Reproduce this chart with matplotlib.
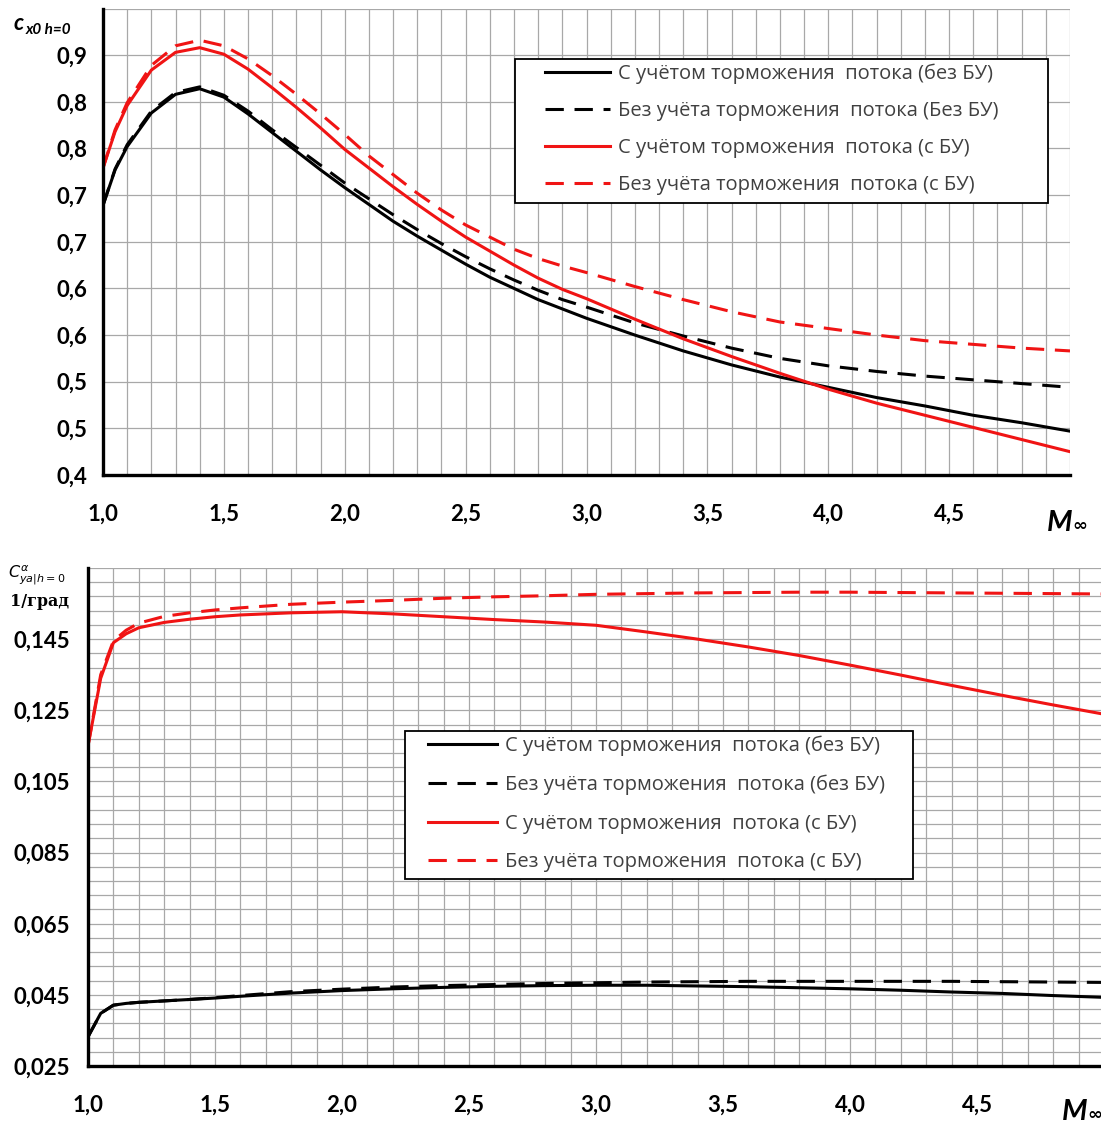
import numpy as np
import matplotlib
matplotlib.use("Agg")
import matplotlib.pyplot as plt
from matplotlib.lines import Line2D
from matplotlib.patches import Rectangle
from matplotlib.ticker import FixedLocator

W, H = 1101, 1127

# ---- top chart: c_x0 (h=0) vs M
m_top = [1.0, 1.05, 1.1, 1.2, 1.3, 1.4, 1.5, 1.6, 1.7, 1.8, 1.9, 2.0, 2.1, 2.2, 2.3, 2.4,
         2.5, 2.6, 2.7, 2.8, 2.9, 3.0, 3.2, 3.4, 3.6, 3.8, 4.0, 4.2, 4.4, 4.6, 4.8, 5.0]
cx_brake_nobu = [0.689, 0.727, 0.752, 0.788, 0.808, 0.814, 0.805, 0.787, 0.767, 0.747, 0.727,
                 0.708, 0.690, 0.672, 0.656, 0.641, 0.626, 0.612, 0.600, 0.588, 0.578, 0.568,
                 0.550, 0.533, 0.518, 0.505, 0.494, 0.483, 0.474, 0.464, 0.456, 0.447]
cx_nobrake_nobu = [0.689, 0.728, 0.754, 0.790, 0.810, 0.816, 0.807, 0.790, 0.770, 0.751, 0.732,
                   0.713, 0.696, 0.679, 0.663, 0.648, 0.634, 0.621, 0.609, 0.598, 0.588, 0.580,
                   0.563, 0.549, 0.536, 0.525, 0.517, 0.511, 0.506, 0.502, 0.498, 0.494]
cx_brake_bu = [0.729, 0.768, 0.796, 0.834, 0.853, 0.858, 0.851, 0.835, 0.815, 0.794, 0.772,
               0.749, 0.729, 0.709, 0.690, 0.672, 0.655, 0.640, 0.625, 0.611, 0.599, 0.589,
               0.567, 0.546, 0.527, 0.509, 0.492, 0.477, 0.464, 0.451, 0.438, 0.425]
cx_nobrake_bu = [0.729, 0.770, 0.799, 0.839, 0.860, 0.866, 0.860, 0.846, 0.828, 0.808, 0.787,
                 0.765, 0.742, 0.722, 0.702, 0.684, 0.668, 0.655, 0.642, 0.632, 0.624, 0.617,
                 0.602, 0.588, 0.575, 0.564, 0.557, 0.550, 0.544, 0.540, 0.536, 0.533]
top_yticks = [0.40, 0.45, 0.50, 0.55, 0.60, 0.65, 0.70, 0.75, 0.80, 0.85, 0.90]
top_ylabels = ["0,4", "0,5", "0,5", "0,6", "0,6", "0,7", "0,7", "0,8", "0,8", "0,9", ""]
top_legend = ["С учётом торможения  потока (без БУ)",
              "Без учёта торможения  потока (Без БУ)",
              "С учётом торможения  потока (с БУ)",
              "Без учёта торможения  потока (с БУ)"]

# ---- bottom chart: C_ya^alpha (h=0), 1/град vs M
m_bot = [1.0, 1.05, 1.1, 1.15, 1.2, 1.3, 1.4, 1.5, 1.6, 1.8, 2.0, 2.2, 2.4, 2.6, 2.8, 3.0,
         3.2, 3.4, 3.6, 3.8, 4.0, 4.2, 4.4, 4.6, 4.8, 5.0]
cy_brake_nobu = [0.0332, 0.0398, 0.0421, 0.0426, 0.0429, 0.0433, 0.0437, 0.0441, 0.0446, 0.0455,
                 0.0462, 0.0467, 0.0471, 0.0474, 0.0476, 0.0477, 0.0477, 0.0475, 0.0473, 0.0470,
                 0.0467, 0.0463, 0.0458, 0.0454, 0.0448, 0.0443]
cy_nobrake_nobu = [0.0332, 0.0398, 0.0421, 0.0426, 0.0429, 0.0433, 0.0437, 0.0442, 0.0448, 0.0459,
                   0.0466, 0.0472, 0.0476, 0.0479, 0.0482, 0.0484, 0.0486, 0.0487, 0.0488, 0.0488,
                   0.0488, 0.0488, 0.0488, 0.0487, 0.0486, 0.0485]
cy_brake_bu = [0.115, 0.134, 0.1440, 0.1465, 0.1482, 0.1497, 0.1506, 0.1513, 0.1518, 0.1524,
               0.1527, 0.1521, 0.1513, 0.1505, 0.1498, 0.1489, 0.1470, 0.1450, 0.1428, 0.1404,
               0.1377, 0.1349, 0.1320, 0.1292, 0.1265, 0.1239]
cy_nobrake_bu = [0.115, 0.135, 0.1445, 0.1475, 0.1495, 0.1514, 0.1524, 0.1532, 0.1538, 0.1548,
                 0.1554, 0.1559, 0.1565, 0.1569, 0.1572, 0.1576, 0.1578, 0.1580, 0.1581, 0.1582,
                 0.1582, 0.1581, 0.1580, 0.1579, 0.1578, 0.1577]
bot_yticks = [0.025, 0.045, 0.065, 0.085, 0.105, 0.125, 0.145]
bot_ylabels = ["0,025", "0,045", "0,065", "0,085", "0,105", "0,125", "0,145"]
bot_legend = ["С учётом торможения  потока (без БУ)",
              "Без учёта торможения  потока (без БУ)",
              "С учётом торможения  потока (с БУ)",
              "Без учёта торможения  потока (с БУ)"]

x_ticks = [1.0, 1.5, 2.0, 2.5, 3.0, 3.5, 4.0, 4.5]
x_labels = ["1,0", "1,5", "2,0", "2,5", "3,0", "3,5", "4,0", "4,5"]

RED = "#f01414"
LW = 2.2
DASH = (6, 3.5)
styles = [("black", "-"), ("black", "--"), (RED, "-"), (RED, "--")]
LEG_FS = 14.5

fig = plt.figure(figsize=(W / 100, H / 100), dpi=100)


def px_axes(left, top, right, bottom):
    return fig.add_axes([left / W, 1 - bottom / H, (right - left) / W, (bottom - top) / H])


def style_axes(ax, ylabels_pad):
    for s in ("top", "right"):
        ax.spines[s].set_visible(False)
    for s in ("left", "bottom"):
        ax.spines[s].set_linewidth(2.4)
        ax.spines[s].set_color("black")
    ax.set_axisbelow(True)
    ax.tick_params(which="both", length=0)
    ax.tick_params(axis="x", pad=21)
    ax.tick_params(axis="y", pad=ylabels_pad)
    for lab in ax.get_xticklabels() + ax.get_yticklabels():
        lab.set_fontfamily("Lato")
        lab.set_fontweight("bold")
        lab.set_fontsize(16)


def add_legend(ax, labels, box, handle_x, rows_cy, hlen, lspace):
    handles = [Line2D([], [], color=c, lw=LW, ls=ls, dashes=DASH if ls == "--" else (None, None))
               for c, ls in styles]
    bb = ax.transAxes.inverted()
    x0, y0 = bb.transform(fig.transFigure.transform((handle_x / W, 1 - rows_cy / H)))
    leg = ax.legend(handles, labels, loc="center left", bbox_to_anchor=(x0, y0),
                    frameon=False, borderpad=0, borderaxespad=0, handlelength=hlen,
                    handletextpad=0.35, labelspacing=lspace,
                    prop={"family": "Open Sans", "size": LEG_FS})
    for t in leg.get_texts():
        t.set_color("#404040")
    l, t_, r, b = box
    ax.add_patch(Rectangle((l / W, 1 - b / H), (r - l) / W, (b - t_) / H,
                           transform=fig.transFigure, facecolor="white",
                           edgecolor="black", lw=1.3, zorder=4.5))
    leg.set_zorder(5)


# ---- top axes
ax1 = px_axes(103, 8.5, 1070, 475)
for y, (c, ls) in zip([cx_brake_nobu, cx_nobrake_nobu, cx_brake_bu, cx_nobrake_bu], styles):
    kw = {"dashes": DASH} if ls == "--" else {}
    ax1.plot(m_top, y, color=c, lw=LW, ls=ls, **kw)
ax1.set_xlim(1.0, 5.0)
ax1.set_ylim(0.40, 0.90)
ax1.set_xticks(x_ticks)
ax1.set_xticklabels(x_labels)
ax1.xaxis.set_minor_locator(FixedLocator(np.arange(1.0, 5.001, 0.1)))
ax1.set_yticks(top_yticks)
ax1.set_yticklabels(top_ylabels)
ax1.grid(which="both", axis="x", color="#a8a8a8", lw=0.9)
ax1.grid(which="major", axis="y", color="#a8a8a8", lw=0.9)
style_axes(ax1, 11)
add_legend(ax1, top_legend, (515, 59, 1048, 203), 545, 129, 3.25, 0.84)

# ---- bottom axes (right edge runs just past the picture)
ax2 = px_axes(88, 568, 1104, 1066)
for y, (c, ls) in zip([cy_brake_nobu, cy_nobrake_nobu, cy_brake_bu, cy_nobrake_bu], styles):
    kw = {"dashes": DASH} if ls == "--" else {}
    ax2.plot(m_bot, y, color=c, lw=LW, ls=ls, **kw)
ax2.set_xlim(1.0, 5.0)
ax2.set_ylim(0.025, 0.165)
ax2.set_xticks(x_ticks)
ax2.set_xticklabels(x_labels)
ax2.xaxis.set_minor_locator(FixedLocator(np.arange(1.0, 5.001, 0.1)))
ax2.set_yticks(bot_yticks)
ax2.set_yticklabels(bot_ylabels)
ax2.yaxis.set_minor_locator(FixedLocator(np.arange(0.025, 0.1651, 0.004)))
ax2.grid(which="both", color="#a8a8a8", lw=0.9)
style_axes(ax2, 13)
add_legend(ax2, bot_legend, (405, 731, 913, 879), 428, 804, 3.45, 0.92)

# ---- axis titles
fig.text(14 / W, 1 - 30 / H, "c", fontsize=16, fontweight="bold", fontstyle="italic",
         family="Lato", va="baseline")
fig.text(26 / W, 1 - 34 / H, "x0 h=0", fontsize=11, fontweight="bold", fontstyle="italic",
         family="Lato", va="baseline")
fig.text(8 / W, 1 - 578 / H, r"$C^{\alpha}_{ya|h=0}$", fontsize=11.5, va="baseline")
fig.text(10 / W, 1 - 606 / H, "1/град", fontsize=11.5, fontweight="bold",
         family="DejaVu Serif", va="baseline")

for x_m, y_m in [(1047, 531), (1062, 1120)]:
    fig.text(x_m / W, 1 - y_m / H, "M", fontsize=21, fontweight="bold", fontstyle="italic",
             family="Lato", va="baseline")
    fig.text((x_m + 25) / W, 1 - y_m / H, "∞", fontsize=13, fontweight="bold",
             family="DejaVu Sans", va="baseline")

fig.savefig("out.png", dpi=100)
